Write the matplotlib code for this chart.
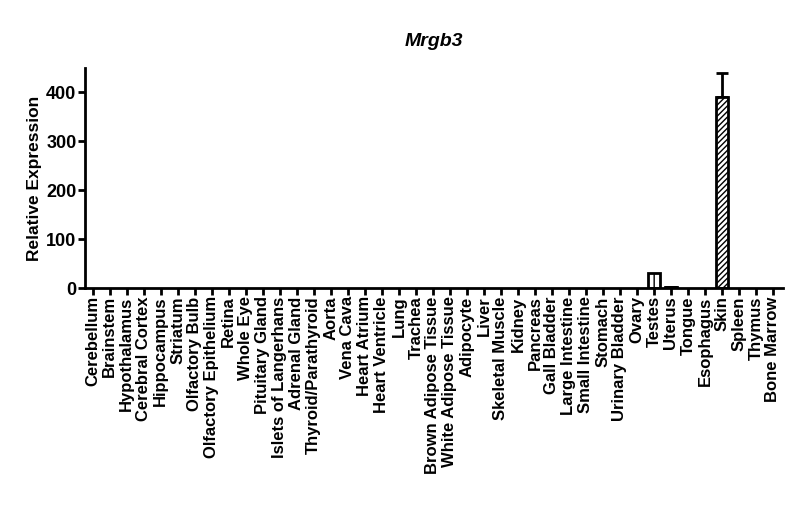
import numpy as np
import matplotlib.pyplot as plt

plt.rcParams['font.family'] = ['Liberation Sans', 'DejaVu Sans']
plt.rcParams['hatch.linewidth'] = 1.0

tissues = ['Cerebellum', 'Brainstem', 'Hypothalamus', 'Cerebral Cortex', 'Hippocampus',
           'Striatum', 'Olfactory Bulb', 'Olfactory Epithelium', 'Retina', 'Whole Eye',
           'Pituitary Gland', 'Islets of Langerhans', 'Adrenal Gland', 'Thyroid/Parathyroid',
           'Aorta', 'Vena Cava', 'Heart Atrium', 'Heart Ventricle', 'Lung', 'Trachea',
           'Brown Adipose Tissue', 'White Adipose Tissue', 'Adipocyte', 'Liver',
           'Skeletal Muscle', 'Kidney', 'Pancreas', 'Gall Bladder', 'Large Intestine',
           'Small Intestine', 'Stomach', 'Urinary Bladder', 'Ovary', 'Testes', 'Uterus',
           'Tongue', 'Esophagus', 'Skin', 'Spleen', 'Thymus', 'Bone Marrow']
values = [0.0] * 41
values[tissues.index('Testes')] = 30.0
values[tissues.index('Uterus')] = 2.0
values[tissues.index('Skin')] = 390.0
errors = [0.0] * 41
errors[tissues.index('Uterus')] = 1.0
errors[tissues.index('Skin')] = 50.0

hatches = {'Testes': '||', 'Skin': '//////'}

fig = plt.figure(figsize=(8, 5.28), dpi=100)
ax = fig.add_axes([0.106, 0.4545, 0.873, 0.417])

x = np.arange(len(tissues))
for i, name in enumerate(tissues):
    if values[i] <= 0:
        continue
    ax.bar(x[i], values[i], width=0.75, color='white', edgecolor='black',
           linewidth=2, hatch=hatches.get(name, ''), zorder=2)
    if errors[i] > 0:
        ax.errorbar(x[i], values[i], yerr=[[0], [errors[i]]], fmt='none',
                    ecolor='black', elinewidth=2, capsize=4, capthick=2, zorder=1)

ax.set_xlim(-0.47, 40.6)
ax.set_ylim(0, 450)
ax.set_yticks([0, 100, 200, 300, 400])
ax.set_xticks(x)
ax.set_xticklabels(tissues, rotation=90, fontsize=12, fontweight='bold')
for lbl in ax.get_yticklabels():
    lbl.set_fontsize(13)
    lbl.set_fontweight('bold')

for s in ['top', 'right']:
    ax.spines[s].set_visible(False)
for s in ['left', 'bottom']:
    ax.spines[s].set_linewidth(2)
ax.tick_params(axis='both', width=2, length=5, pad=1)

ax.set_ylabel('Relative Expression', fontsize=12.5, fontweight='bold', labelpad=3)
ax.set_title('Mrgb3', fontsize=14, fontweight='bold', style='italic', pad=16)

fig.savefig('out.png', dpi=100)
